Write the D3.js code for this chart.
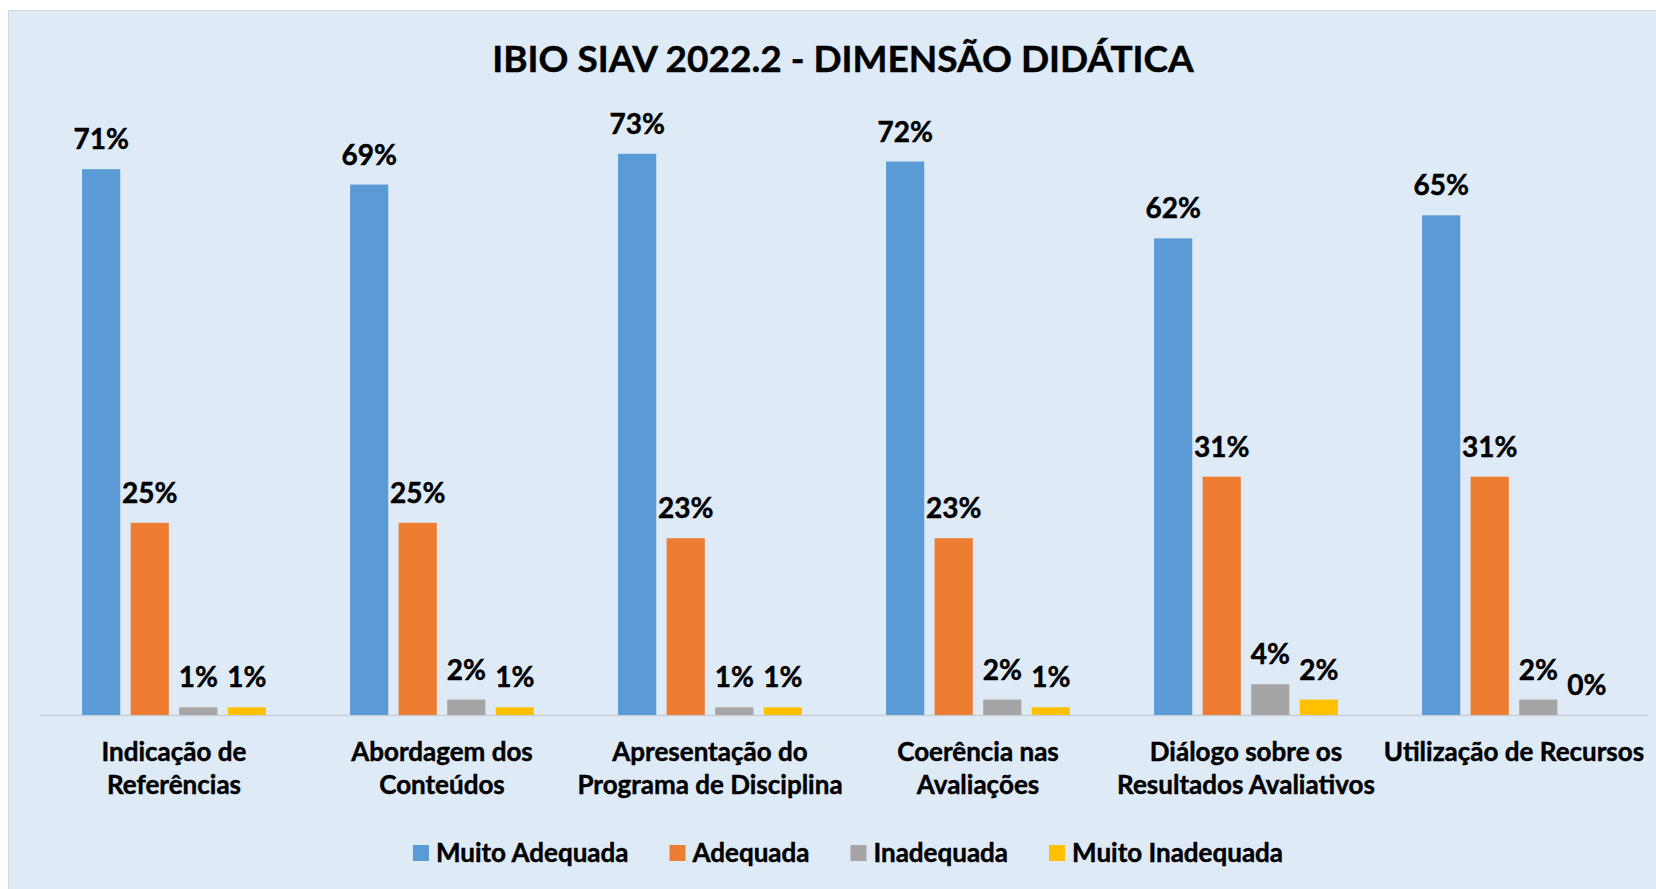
<!DOCTYPE html>
<html>
<head>
<meta charset="utf-8">
<script src="https://cdn.jsdelivr.net/npm/d3@7"></script>
<style>
  body { margin: 0; background: #fff; }
  svg { display: block; }
</style>
</head>
<body>
<div id="chart"></div>
<script>
const categories = [
  ["Indicação de", "Referências"],
  ["Abordagem dos", "Conteúdos"],
  ["Apresentação do", "Programa de Disciplina"],
  ["Coerência nas", "Avaliações"],
  ["Diálogo sobre os", "Resultados Avaliativos"],
  ["Utilização de Recursos"]
];
const seriesNames = ["Muito Adequada", "Adequada", "Inadequada", "Muito Inadequada"];
const muitoAdequada = [0.71, 0.69, 0.73, 0.72, 0.62, 0.65];
const adequada = [0.25, 0.25, 0.23, 0.23, 0.31, 0.31];
const inadequada = [0.01, 0.02, 0.01, 0.02, 0.04, 0.02];
const muitoInadequada = [0.01, 0.01, 0.01, 0.01, 0.02, 0.00];
const colors = ["#5B9BD5", "#ED7D31", "#A5A5A5", "#FFC000"];

const seriesValues = [muitoAdequada, adequada, inadequada, muitoInadequada];
const catKeys = categories.map(c => c.join(" "));

const width = 1656, height = 889;
const font = "Lato, 'Open Sans', sans-serif";

const svg = d3.select("#chart").append("svg")
  .attr("width", width)
  .attr("height", height);

svg.append("rect")
  .attr("x", 8.5).attr("y", 10.5)
  .attr("width", width).attr("height", height)
  .attr("fill", "#DEEAF6")
  .attr("stroke", "#D6D6D6");

// bold text, slightly thickened to get closer to the original's heavier face
function boldText(sel, size) {
  return sel.attr("font-family", font)
    .attr("font-weight", "bold")
    .attr("font-size", size)
    .attr("fill", "#000")
    .attr("stroke", "#000")
    .attr("stroke-width", 0.45);
}

boldText(svg.append("text"), 37)
  .attr("x", 843).attr("y", 72)
  .attr("text-anchor", "middle")
  .text("IBIO SIAV 2022.2 - DIMENSÃO DIDÁTICA");

const x0 = d3.scaleBand()
  .domain(catKeys)
  .range([40, 1648])
  .paddingInner(0.314)
  .paddingOuter(0.157);

const x1 = d3.scaleBand()
  .domain(seriesNames)
  .range([0, x0.bandwidth()])
  .paddingInner(0.214);

const y = d3.scaleLinear().domain([0, 0.8]).range([715, 100]);

// baseline
svg.append("line")
  .attr("x1", 40).attr("x2", 1648)
  .attr("y1", y(0) + 0.5).attr("y2", y(0) + 0.5)
  .attr("stroke", "#C9CFD6").attr("stroke-width", 1.5);

const rows = catKeys.map((k, i) => ({
  key: k,
  values: seriesNames.map((s, j) => ({ series: s, idx: j, value: seriesValues[j][i] }))
}));

const groups = svg.selectAll("g.cat")
  .data(rows)
  .join("g")
  .attr("class", "cat")
  .attr("transform", d => `translate(${x0(d.key)},0)`);

groups.selectAll("rect")
  .data(d => d.values)
  .join("rect")
  .attr("x", d => x1(d.series))
  .attr("y", d => y(d.value))
  .attr("width", x1.bandwidth())
  .attr("height", d => y(0) - y(d.value))
  .attr("fill", d => colors[d.idx]);

boldText(groups.selectAll("text.lbl")
  .data(d => d.values)
  .join("text"), 28)
  .attr("class", "lbl")
  .attr("x", d => x1(d.series) + x1.bandwidth() / 2)
  .attr("y", d => y(d.value) - 20)
  .attr("text-anchor", "middle")
  .text(d => Math.round(d.value * 100) + "%");

// category labels
const catLabels = boldText(svg.selectAll("text.cat")
  .data(categories)
  .join("text"), 26)
  .attr("class", "cat")
  .attr("x", (d, i) => x0(catKeys[i]) + x0.bandwidth() / 2)
  .attr("y", 761)
  .attr("text-anchor", "middle");

catLabels.selectAll("tspan")
  .data(d => d)
  .join("tspan")
  .attr("x", function() { return this.parentNode.getAttribute("x"); })
  .attr("dy", (d, i) => i === 0 ? 0 : 33)
  .text(d => d);

// legend
const legend = svg.append("g");
let lx = 0;
seriesNames.forEach((s, i) => {
  const item = legend.append("g").attr("transform", `translate(${lx},0)`);
  item.append("rect")
    .attr("x", 0).attr("y", -17)
    .attr("width", 16).attr("height", 16)
    .attr("fill", colors[i]);
  const t = boldText(item.append("text"), 26)
    .attr("x", 23).attr("y", 0)
    .text(s);
  lx += 23 + t.node().getComputedTextLength() + 41;
});
const legendW = lx - 41;
legend.attr("transform", `translate(${848 - legendW / 2},862)`);
</script>
</body>
</html>
